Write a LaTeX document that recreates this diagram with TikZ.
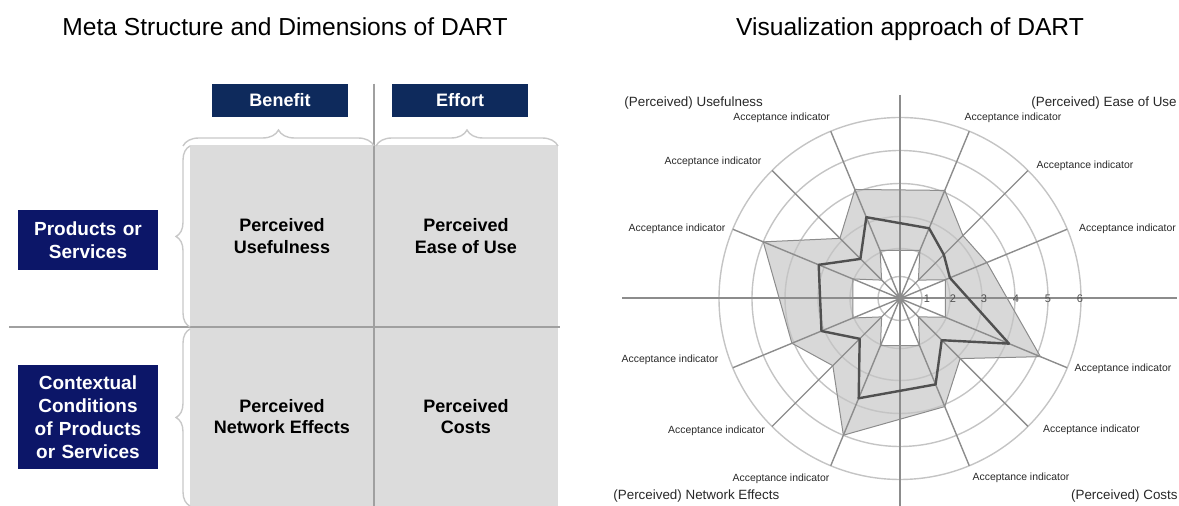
\documentclass[tikz,border=0pt]{standalone}
\usepackage{fontspec}
\setmainfont{Liberation Sans}
\usetikzlibrary{decorations.pathreplacing}

\definecolor{headblue}{RGB}{14,42,92}
\definecolor{sideblue}{RGB}{12,22,104}
\definecolor{cellgray}{RGB}{220,220,220}
\definecolor{linegray}{RGB}{160,160,160}
\definecolor{bracegray}{RGB}{200,200,200}
\definecolor{ringgray}{RGB}{196,196,196}
\definecolor{spokegray}{RGB}{140,140,140}
\definecolor{areagray}{RGB}{216,216,216}
\definecolor{valuegray}{RGB}{80,80,80}
\definecolor{labelgray}{RGB}{40,40,40}

\tikzstyle{header} = [rectangle, fill=headblue, text=white, 
font=\bfseries\fontsize{9}{11}\selectfont, minimum width=68pt, minimum height=16.5pt, inner sep=0pt]
\tikzstyle{sidebox} = [rectangle, fill=sideblue, text=white, 
font=\bfseries\fontsize{9.5}{11.5}\selectfont, text width=70pt, align=center, minimum height=30pt, inner sep=0pt]
\tikzstyle{cell} = [rectangle, fill=cellgray, 
font=\bfseries\fontsize{9}{10.8}\selectfont, align=center, minimum width=92pt, minimum height=91pt, inner sep=0pt]
\tikzstyle{heading} = [font=\fontsize{12.3}{14}\selectfont, anchor=base, inner sep=0pt]
\tikzstyle{dimension} = [font=\fontsize{6.7}{8}\selectfont, text=labelgray, inner sep=0pt]
\tikzstyle{indicator} = [font=\fontsize{5.2}{6}\selectfont, text=labelgray, inner sep=0pt]
\tikzstyle{scalenum} = [font=\fontsize{5.5}{6}\selectfont, text=valuegray, inner sep=0pt]
\tikzstyle{divider} = [draw=linegray, line width=1pt]
\tikzstyle{curly} = [draw=bracegray, line width=0.7pt, decorate, decoration={brace, amplitude=8pt}]

\begin{document}
\begin{tikzpicture}[x=0.5pt, y=0.5pt]
	\useasboundingbox (0,0) rectangle (1179,-506);

	%Titles
	\node [heading] (meta) at (285,-36) {Meta Structure and Dimensions of DART};
	\node [heading] (visual) at (910,-36) {Visualization approach of DART};

	%Nodes
	\node [header] (benefit) at (280,-100.5) {Benefit};
	\node [header, right of = benefit, node distance = 90pt] (effort) {Effort};

	\node [cell] (use) at (282,-236) {Perceived\\Usefulness};
	\node [cell, right of = use, node distance = 92pt] (ease) {Perceived\\Ease of Use};
	\node [cell, below of = use, node distance = 90.25pt, minimum height = 89.5pt] (net) {Perceived\\Network Effects};
	\node [cell, right of = net, node distance = 92pt, minimum height = 89.5pt] (costcell) {Perceived\\Costs};

	\node [sidebox] (products) at (88,-240) {Products or\\Services};
	\node [sidebox, below of = products, node distance = 88.5pt, minimum height = 52pt] (context) {Contextual\\Conditions\\of Products\\or Services};

	%Lines
	\draw [divider] (use.east |- benefit.north) -- (use.east |- net.south);
	\draw [divider] (9,-327) -- (560,-327);

	%Braces
	\draw [curly] (183,-146) -- (374,-146);
	\draw [curly] (376,-146) -- (558,-146);
	\draw [curly, decoration={brace, amplitude=7pt}] (190,-327) -- (190,-146);
	\draw [curly, decoration={brace, amplitude=7pt}] (190,-506) -- (190,-329);

	%Radar
	\begin{scope}[shift={(900,-298.5)}]
		%max and min area
		\fill [areagray] (22.5:94) -- (45:89) -- (67.5:117) -- (112.5:118) -- (135:85) -- (157.5:148)
			-- (202.5:117) -- (225:95) -- (247.5:148) -- (292.5:117) -- (315:85) -- (337.5:152) -- cycle;
		\fill [white] (22.5:49) -- (45:26) -- (67.5:52) -- (112.5:52) -- (135:26) -- (157.5:51)
			-- (202.5:51) -- (225:26) -- (247.5:51) -- (292.5:51) -- (315:26) -- (337.5:49) -- cycle;

		%rings
		\draw [ringgray, line width=0.7pt] (0,0) circle (11pt) circle (25pt) circle (41pt)
			circle (57.5pt) circle (74pt) circle (90.5pt);

		%spokes
		\draw [spokegray, line width=0.7pt] (0,0) -- (22.5:181) (0,0) -- (45:181) (0,0) -- (67.5:181)
			(0,0) -- (112.5:181) (0,0) -- (135:181) (0,0) -- (157.5:181)
			(0,0) -- (202.5:181) (0,0) -- (225:181) (0,0) -- (247.5:181)
			(0,0) -- (292.5:181) (0,0) -- (315:181) (0,0) -- (337.5:181);
		\draw [spokegray, line width=1pt] (-278,0) -- (277,0) (0,203.5) -- (0,-207.5);

		%outlines
		\draw [spokegray, line width=0.5pt, line join=round] (22.5:94) -- (45:89) -- (67.5:117) -- (112.5:118) -- (135:85) -- (157.5:148)
			-- (202.5:117) -- (225:95) -- (247.5:148) -- (292.5:117) -- (315:85) -- (337.5:152) -- cycle;
		\draw [spokegray, line width=0.5pt, line join=round] (22.5:49) -- (45:26) -- (67.5:52) -- (112.5:52) -- (135:26) -- (157.5:51)
			-- (202.5:51) -- (225:26) -- (247.5:51) -- (292.5:51) -- (315:26) -- (337.5:49) -- cycle;
		\draw [valuegray, line width=1.2pt, line join=round] (22.5:54) -- (45:62) -- (67.5:76) -- (112.5:88) -- (135:56) -- (157.5:88)
			-- (202.5:85) -- (225:57) -- (247.5:108) -- (292.5:93) -- (315:59) -- (337.5:118) -- cycle;

		%scale
		\node [scalenum] (s1) at (27,0) {1};
		\node [scalenum] (s2) at (53,0) {2};
		\node [scalenum] (s3) at (84,0) {3};
		\node [scalenum] (s4) at (116,0) {4};
		\node [scalenum] (s5) at (148,0) {5};
		\node [scalenum] (s6) at (180,0) {6};
	\end{scope}

	%Dimension labels
	\node [dimension, anchor=west] (usefulness) at (624,-102.7) {(Perceived) Usefulness};
	\node [dimension, anchor=east] (easeofuse) at (1177,-102.7) {(Perceived) Ease of Use};
	\node [dimension, anchor=west] (network) at (613,-496) {(Perceived) Network Effects};
	\node [dimension, anchor=east] (costs) at (1178,-496.5) {(Perceived) Costs};

	%Indicator labels
	\node [indicator] (ind1) at (781.7,-118) {Acceptance indicator};
	\node [indicator] (ind2) at (713,-162) {Acceptance indicator};
	\node [indicator] (ind3) at (677,-229) {Acceptance indicator};
	\node [indicator] (ind4) at (1013,-118) {Acceptance indicator};
	\node [indicator] (ind5) at (1085,-166) {Acceptance indicator};
	\node [indicator] (ind6) at (1127.5,-229) {Acceptance indicator};
	\node [indicator] (ind7) at (1123,-369) {Acceptance indicator};
	\node [indicator] (ind8) at (1091.5,-430) {Acceptance indicator};
	\node [indicator] (ind9) at (1021,-478) {Acceptance indicator};
	\node [indicator] (ind10) at (670,-360) {Acceptance indicator};
	\node [indicator] (ind11) at (716.5,-431) {Acceptance indicator};
	\node [indicator] (ind12) at (781,-479) {Acceptance indicator};

\end{tikzpicture}
\end{document}
